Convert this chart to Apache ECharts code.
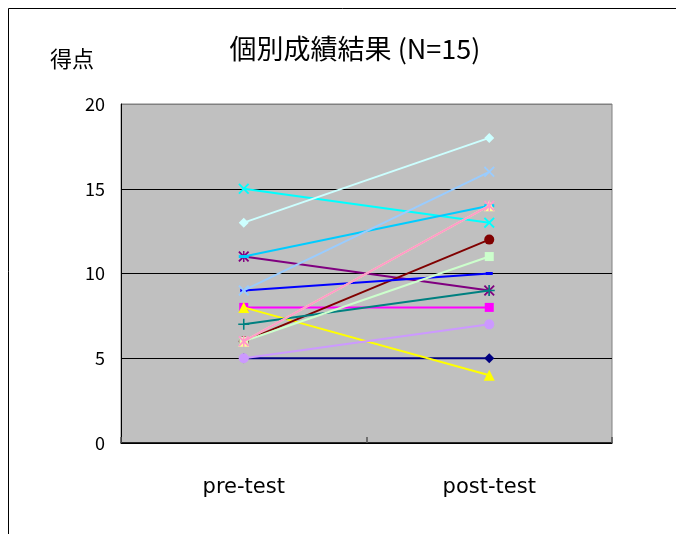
<!DOCTYPE html>
<html>
<head>
<meta charset="utf-8">
<script src="https://cdn.jsdelivr.net/npm/echarts@6/dist/echarts.min.js"></script>
<style>
  html, body { margin: 0; padding: 0; background: #fff; }
  #chart { width: 676px; height: 534px; }
</style>
</head>
<body>
<div id="chart"></div>
<script>
// Test phases (x axis)
const categories = ['pre-test', 'post-test'];

// Y axis tick values
const yTicks = [0, 5, 10, 15, 20];

// Score per student: [pre-test, post-test]
const s01 = [5, 5];
const s02 = [8, 8];
const s03 = [8, 4];
const s04 = [15, 13];
const s05 = [11, 9];
const s06 = [6, 12];
const s07 = [7, 9];
const s08 = [9, 10];
const s09 = [11, 14];
const s10 = [13, 18];
const s11 = [6, 11];
const s12 = [6, 14];
const s13 = [9, 16];
const s14 = [6, 14];
const s15 = [5, 7];

const studentScores = [s01, s02, s03, s04, s05, s06, s07, s08, s09, s10, s11, s12, s13, s14, s15];

// Marker shapes
const X_PATH = 'path://M0,1.2 L1.2,0 L5,3.8 L8.8,0 L10,1.2 L6.2,5 L10,8.8 L8.8,10 L5,6.2 L1.2,10 L0,8.8 L3.8,5 Z';
const STAR_PATH = X_PATH.replace(' Z', ' Z M4.35,0 L5.65,0 L5.65,10 L4.35,10 Z');
const PLUS_PATH = 'path://M4.3,0 H5.7 V4.3 H10 V5.7 H5.7 V10 H4.3 V5.7 H0 V4.3 H4.3 Z';
const DASH_PATH = 'path://M0,0 H10 V10 H0 Z';

const styles = [
  { color: '#000080', symbol: 'diamond', size: 10 },
  { color: '#FF00FF', symbol: 'rect', size: 9 },
  { color: '#FFFF00', symbol: 'triangle', size: 11 },
  { color: '#00FFFF', symbol: X_PATH, size: 11 },
  { color: '#800080', symbol: STAR_PATH, size: 11 },
  { color: '#800000', symbol: 'circle', size: 10 },
  { color: '#008080', symbol: PLUS_PATH, size: 11 },
  { color: '#0000FF', symbol: DASH_PATH, size: [7, 3] },
  { color: '#00CCFF', symbol: DASH_PATH, size: [10, 3] },
  { color: '#CCFFFF', symbol: 'diamond', size: 10 },
  { color: '#CCFFCC', symbol: 'rect', size: 9 },
  { color: '#FFFF99', symbol: 'triangle', size: 11 },
  { color: '#99CCFF', symbol: X_PATH, size: 11 },
  { color: '#FF99CC', symbol: STAR_PATH, size: 11 },
  { color: '#CC99FF', symbol: 'circle', size: 10 }
];

const FONT = '"Noto Sans CJK JP", sans-serif';
const LATIN = '"DejaVu Sans", sans-serif';

const chart = echarts.init(document.getElementById('chart'), null, { renderer: 'canvas' });

chart.setOption({
  animation: false,
  backgroundColor: '#ffffff',
  title: {
    text: '個別成績結果 (N=15)',
    left: 350,
    top: 30,
    textAlign: 'center',
    textStyle: { fontFamily: FONT, fontSize: 27, fontWeight: 'normal', color: '#000' }
  },
  graphic: [
    {
      type: 'rect',
      shape: { x: 8.5, y: 8.5, width: 700, height: 600 },
      style: { fill: 'none', stroke: '#000', lineWidth: 1 },
      silent: true,
      z: -1
    },
    {
      type: 'text',
      left: 50,
      top: 48,
      style: { text: '得点', font: '22px "Noto Sans CJK JP", sans-serif', fill: '#000' }
    }
  ],
  grid: {
    left: 121,
    top: 104,
    width: 491,
    height: 339,
    show: true,
    backgroundColor: '#C0C0C0',
    borderColor: '#808080',
    borderWidth: 1,
    containLabel: false
  },
  xAxis: {
    type: 'category',
    data: categories,
    boundaryGap: true,
    axisLine: { show: true, lineStyle: { color: '#000', width: 1.5 } },
    axisTick: { show: true, inside: true, length: 6, lineStyle: { color: '#555', width: 1.5 } },
    axisLabel: { margin: 34, fontFamily: LATIN, fontSize: 21, color: '#000' },
    splitLine: { show: false }
  },
  yAxis: {
    type: 'value',
    min: yTicks[0],
    max: yTicks[yTicks.length - 1],
    interval: yTicks[1] - yTicks[0],
    axisLine: { show: true, lineStyle: { color: '#000', width: 1 } },
    axisTick: { show: false },
    axisLabel: { margin: 16, fontFamily: FONT, fontSize: 18, color: '#000' },
    splitLine: { show: true, lineStyle: { color: ['#000', '#000', '#000', '#000', '#808080'], width: 1 } }
  },
  series: studentScores.map((scores, i) => ({
    name: 'S' + (i + 1),
    type: 'line',
    data: scores,
    symbol: styles[i].symbol,
    symbolSize: styles[i].size,
    showAllSymbol: true,
    lineStyle: { color: styles[i].color, width: 2 },
    itemStyle: { color: styles[i].color, borderWidth: 0, opacity: 1 },
    emphasis: { disabled: true },
    z: 2 + i
  }))
});
</script>
</body>
</html>
